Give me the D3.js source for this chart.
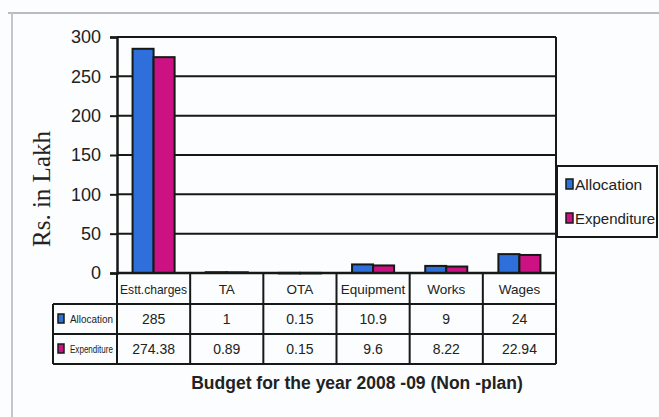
<!DOCTYPE html>
<html><head><meta charset="utf-8">
<script src="https://cdn.jsdelivr.net/npm/d3@7"></script>
<style>
html,body{margin:0;padding:0;background:#fbfdfe;}
svg{display:block;}
</style></head>
<body>
<svg id="chart" width="659" height="417"></svg>
<script>
const categories = ["Estt.charges","TA","OTA","Equipment","Works","Wages"];
const seriesNames = ["Allocation","Expenditure"];
const allocation = [285, 1, 0.15, 10.9, 9, 24];
const expenditure = [274.38, 0.89, 0.15, 9.6, 8.22, 22.94];
const allocationLabels = ["285","1","0.15","10.9","9","24"];
const expenditureLabels = ["274.38","0.89","0.15","9.6","8.22","22.94"];
const yTicks = [0,50,100,150,200,250,300];
const colors = ["#2f6fdc","#cc1282"];

const svg = d3.select("#chart");
const L = 117, R = 556, T = 37, B = 273;
const rows = [273, 304, 334, 364];
const ink = "#161a16";

// page frame lines
svg.append("line").attr("x1",8).attr("x2",659).attr("y1",13).attr("y2",13).attr("stroke","#b9bcbf").attr("stroke-width",2);
svg.append("line").attr("x1",12).attr("x2",12).attr("y1",13).attr("y2",417).attr("stroke","#c4c7ca").attr("stroke-width",2);

const x = d3.scaleBand().domain(categories).range([L,R]).paddingInner(0).paddingOuter(0);
const x1 = d3.scaleBand().domain(seriesNames).range([0,x.bandwidth()]).paddingInner(0).paddingOuter(0.74);
const y = d3.scaleLinear().domain([0,300]).range([B,T]);

// gridlines
svg.append("g").selectAll("line").data(yTicks).join("line")
  .attr("x1",L).attr("x2",R).attr("y1",d=>y(d)).attr("y2",d=>y(d))
  .attr("stroke",ink).attr("stroke-width",2);
// right border
svg.append("line").attr("x1",R).attr("x2",R).attr("y1",T).attr("y2",B).attr("stroke",ink).attr("stroke-width",2);

// y axis
const yAxis = d3.axisLeft(y).tickValues(yTicks).tickSize(7).tickPadding(9);
const ga = svg.append("g").attr("transform",`translate(${L},0)`).call(yAxis);
ga.select(".domain").attr("stroke",ink).attr("stroke-width",2.5);
ga.selectAll(".tick line").attr("stroke",ink).attr("stroke-width",2);
ga.selectAll(".tick text").attr("font-family","Liberation Sans, Arial, sans-serif").attr("font-size",18).attr("fill","#222");

// y label
svg.append("text").attr("transform","translate(50,189) rotate(-90)")
  .attr("text-anchor","middle").attr("font-family","Liberation Serif, Times New Roman, serif")
  .attr("font-size",25).attr("fill","#222").text("Rs. in Lakh");

// bars
const data = categories.map((c,i)=>({cat:c, vals:[allocation[i], expenditure[i]]}));
const groups = svg.append("g").selectAll("g").data(data).join("g")
  .attr("transform",d=>`translate(${x(d.cat)},0)`);
groups.selectAll("rect").data(d=>d.vals.map((v,j)=>({v, s:seriesNames[j], j})))
  .join("rect")
  .attr("x",d=>x1(d.s)).attr("width",x1.bandwidth())
  .attr("y",d=>y(d.v)).attr("height",d=>Math.max(0.5, B - y(d.v)))
  .attr("fill",d=>colors[d.j]).attr("stroke",ink).attr("stroke-width",2);

// table
const tg = svg.append("g");
const font = "Liberation Sans, Arial, sans-serif";
tg.append("line").attr("x1",L).attr("x2",R).attr("y1",rows[0]).attr("y2",rows[0]).attr("stroke",ink).attr("stroke-width",2.5);
[rows[1],rows[2],rows[3]].forEach(yy=>{
  tg.append("line").attr("x1",53).attr("x2",R).attr("y1",yy).attr("y2",yy).attr("stroke",ink).attr("stroke-width",2);
});
tg.append("line").attr("x1",53).attr("x2",53).attr("y1",rows[1]).attr("y2",rows[3]).attr("stroke",ink).attr("stroke-width",2);
categories.forEach(c=>{
  tg.append("line").attr("x1",x(c)).attr("x2",x(c)).attr("y1",rows[0]).attr("y2",rows[3]).attr("stroke",ink).attr("stroke-width",2);
});
tg.append("line").attr("x1",R).attr("x2",R).attr("y1",rows[0]).attr("y2",rows[3]).attr("stroke",ink).attr("stroke-width",2);

tg.selectAll("text.cat").data(categories).join("text").attr("class","cat")
  .attr("x",d=>x(d)+x.bandwidth()/2).attr("y",(rows[0]+rows[1])/2+5)
  .attr("text-anchor","middle").attr("font-family",font).attr("font-size",13.5).attr("fill","#222")
  .attr("textLength",d=>d==="Estt.charges"?67:null).attr("lengthAdjust","spacingAndGlyphs")
  .text(d=>d);
[allocationLabels, expenditureLabels].forEach((labels,r)=>{
  tg.selectAll(null).data(labels).join("text")
    .attr("x",(d,i)=>x(categories[i])+x.bandwidth()/2).attr("y",(rows[r+1]+rows[r+2])/2+5)
    .attr("text-anchor","middle").attr("font-family",font).attr("font-size",14).attr("fill","#222")
    .text(d=>d);
});
seriesNames.forEach((s,r)=>{
  const cy = (rows[r+1]+rows[r+2])/2;
  tg.append("rect").attr("x",58).attr("y",cy-5).attr("width",6).attr("height",9)
    .attr("fill",colors[r]).attr("stroke",ink).attr("stroke-width",1.5);
  tg.append("text").attr("x",70).attr("y",cy+4).attr("font-family",font).attr("font-size",10)
    .attr("fill","#222").attr("textLength",43).attr("lengthAdjust","spacingAndGlyphs").text(s);
});

// legend
const lg = svg.append("g");
lg.append("rect").attr("x",557).attr("y",166).attr("width",100).attr("height",71)
  .attr("fill","#fbfdfe").attr("stroke",ink).attr("stroke-width",2);
seriesNames.forEach((s,i)=>{
  const cy = 184 + i*34;
  lg.append("rect").attr("x",566).attr("y",cy-5).attr("width",7).attr("height",10)
    .attr("fill",colors[i]).attr("stroke",ink).attr("stroke-width",1.5);
  lg.append("text").attr("x",575).attr("y",cy+6).attr("font-family",font).attr("font-size",15.5)
    .attr("fill","#222").attr("textLength",s==="Expenditure"?80:null).attr("lengthAdjust","spacingAndGlyphs").text(s);
});

// bottom title
svg.append("text").attr("x",357).attr("y",389).attr("text-anchor","middle")
  .attr("font-family",font).attr("font-weight","bold").attr("font-size",17.5).attr("fill","#222")
  .text("Budget for the year 2008 -09 (Non -plan)");
</script>
</body></html>
